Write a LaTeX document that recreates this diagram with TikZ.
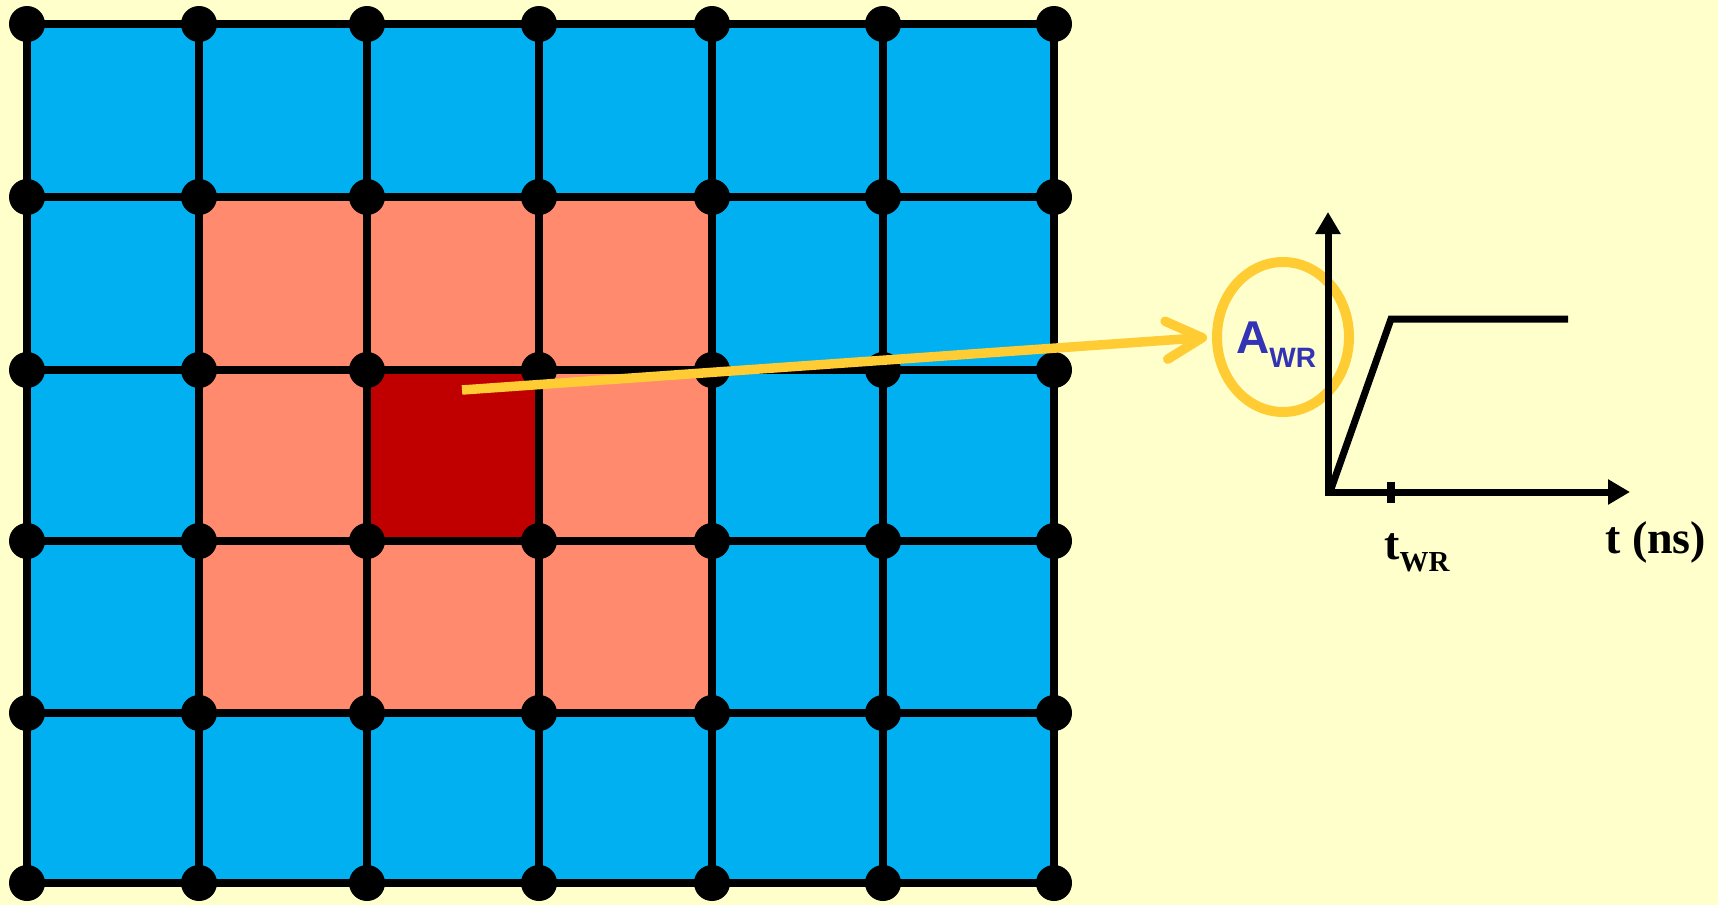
\documentclass[tikz,border=0pt]{standalone}
\usepackage{fontspec}
\setmainfont{Liberation Serif}
\newfontfamily\arialfont{Liberation Sans}
\usetikzlibrary{arrows.meta,shapes.geometric}
\definecolor{bgyellow}{HTML}{FFFFCC}
\definecolor{cellblue}{HTML}{00B0F0}
\definecolor{cellsalmon}{HTML}{FF8A6E}
\definecolor{celldark}{HTML}{C00000}
\definecolor{ringyellow}{HTML}{FFCC33}
\definecolor{labelblue}{HTML}{3333B5}
\tikzset{
  gridline/.style={draw=black, line width=7.5pt},
  griddot/.style={fill=black},
  ptr/.style={draw=ringyellow, line width=9.5pt, line cap=butt, shorten >=5pt,
    -{Straight Barb[length=36pt,width=38pt,round]}},
  ring/.style={shape=ellipse, draw=ringyellow, line width=10pt, inner sep=0pt,
    minimum width=132pt, minimum height=150pt},
  axis/.style={draw=black, line width=7pt, -{Triangle[length=22pt,width=24pt]}},
  curveline/.style={draw=black, line width=7pt},
  tickmark/.style={draw=black, line width=8pt},
  awlabel/.style={inner sep=0pt, anchor=base west, text=labelblue,
    font=\arialfont\bfseries\fontsize{46pt}{46pt}\selectfont},
  axlabel/.style={inner sep=0pt, anchor=base west, text=black,
    font=\bfseries\fontsize{46pt}{46pt}\selectfont}
}
\begin{document}
\begin{tikzpicture}[x=1pt,y=-1pt]
\fill[bgyellow] (0,0) rectangle (1718,905);
\useasboundingbox (0,0) rectangle (1718,905);
% grid coordinates
\foreach \x [count=\i from 0] in {27,199,367,539,712,883,1054} {
  \foreach \y [count=\j from 0] in {24,197,370,541,713,883} {
    \coordinate (p\i-\j) at (\x,\y);
  }
}
% cells
\fill[cellblue] (p0-0) rectangle (p6-5);
\fill[cellsalmon] (p1-1) rectangle (p4-4);
\fill[celldark] (p2-2) rectangle (p3-3);
% grid lines
\foreach \j in {0,...,5} { \draw[gridline] (p0-\j) -- (p6-\j); }
\foreach \i in {0,...,6} { \draw[gridline] (p\i-0) -- (p\i-5); }
% dots
\foreach \i in {0,...,6} {
  \foreach \j in {0,...,5} {
    \fill[griddot] (p\i-\j) circle[radius=18pt];
  }
}
% ring and pointer
\node[ring] (aw) at (1283,337) {};
\coordinate (tail) at (462,390);
\draw[ptr] (tail) -- (aw.west);
% axes
\coordinate (O) at (1328,492);
\coordinate (ybot) at (1328,496);
\coordinate (ytop) at (1328,212);
\coordinate (xbeg) at (1325,492);
\coordinate (xend) at (1630,492);
\draw[axis] (ybot) -- (ytop);
\draw[axis] (xbeg) -- (xend);
% response curve
\coordinate (r0) at (1331,489);
\coordinate (r1) at (1391,319);
\coordinate (r2) at (1568,319);
\draw[curveline] (r0) -- (r1) -- (r2);
% tick
\coordinate (tk1) at (1391,482);
\coordinate (tk2) at (1391,503);
\draw[tickmark] (tk1) -- (tk2);
% labels
\node[awlabel] (awtext) at (1236,353) {A\raisebox{-14pt}{\fontsize{28pt}{28pt}\selectfont WR}};
\node[axlabel] (twr) at (1384,559) {t\raisebox{-12pt}{\fontsize{29pt}{29pt}\selectfont WR}};
\node[axlabel] (tns) at (1605,553) {t (ns)};
\end{tikzpicture}
\end{document}
